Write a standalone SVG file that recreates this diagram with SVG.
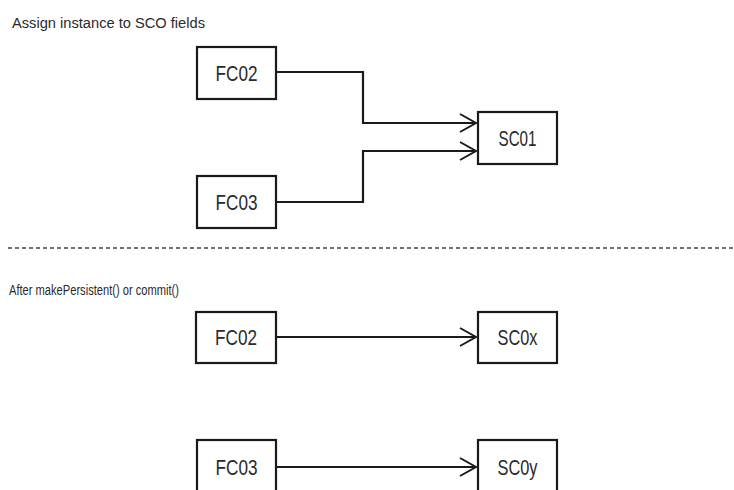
<svg xmlns="http://www.w3.org/2000/svg" width="734" height="490" viewBox="0 0 734 490">
<style>
.box{fill:#fff;stroke:#1a1a1a;stroke-width:2.2}
.lbl{font-family:"Liberation Sans",Arial,sans-serif;font-size:22px;fill:#2a2a2a;text-anchor:middle}
.cap{font-family:"Liberation Sans",Arial,sans-serif;font-size:14px;fill:#2a2a2a}
.con{fill:none;stroke:#1a1a1a;stroke-width:2.2}
.head{fill:none;stroke:#1a1a1a;stroke-width:2}
</style>
<rect width="734" height="490" fill="#fff"/>
<text class="cap" x="12" y="28" textLength="193" lengthAdjust="spacingAndGlyphs">Assign instance to SCO fields</text>
<text class="cap" x="9" y="295" textLength="170" lengthAdjust="spacingAndGlyphs">After makePersistent() or commit()</text>
<line x1="8" y1="248" x2="734" y2="248" stroke="#444" stroke-width="1.6" stroke-dasharray="4,3"/>
<g id="connectors">
<polyline class="con" points="276,72 363,72 363,123 475,123"/>
<polyline class="head" points="460,114 476,123 460,132"/>
<polyline class="con" points="276,202 363,202 363,151 475,151"/>
<polyline class="head" points="460,142 476,151 460,160"/>
<line class="con" x1="276" y1="337" x2="475" y2="337"/>
<polyline class="head" points="460,328 476,337 460,346"/>
<line class="con" x1="276" y1="467" x2="475" y2="467"/>
<polyline class="head" points="460,458 476,467 460,476"/>
</g>
<g id="fc02a"><rect class="box" x="197" y="47" width="79" height="52"/><text class="lbl" x="236.5" y="81" textLength="42" lengthAdjust="spacingAndGlyphs">FC02</text></g>
<g id="fc03a"><rect class="box" x="197" y="176" width="79" height="52"/><text class="lbl" x="236.5" y="210" textLength="42" lengthAdjust="spacingAndGlyphs">FC03</text></g>
<g id="sc01"><rect class="box" x="478" y="112" width="79" height="52"/><text class="lbl" x="517.5" y="146" textLength="38" lengthAdjust="spacingAndGlyphs">SC01</text></g>
<g id="fc02b"><rect class="box" x="196" y="312" width="80" height="51"/><text class="lbl" x="236" y="345" textLength="42" lengthAdjust="spacingAndGlyphs">FC02</text></g>
<g id="sc0x"><rect class="box" x="478" y="312" width="79" height="51"/><text class="lbl" x="517.5" y="345" textLength="40" lengthAdjust="spacingAndGlyphs">SC0x</text></g>
<g id="fc03b"><rect class="box" x="197" y="440" width="79" height="54"/><text class="lbl" x="236.5" y="475" textLength="42" lengthAdjust="spacingAndGlyphs">FC03</text></g>
<g id="sc0y"><rect class="box" x="478" y="440" width="79" height="54"/><text class="lbl" x="517.5" y="475" textLength="40" lengthAdjust="spacingAndGlyphs">SC0y</text></g>
</svg>
